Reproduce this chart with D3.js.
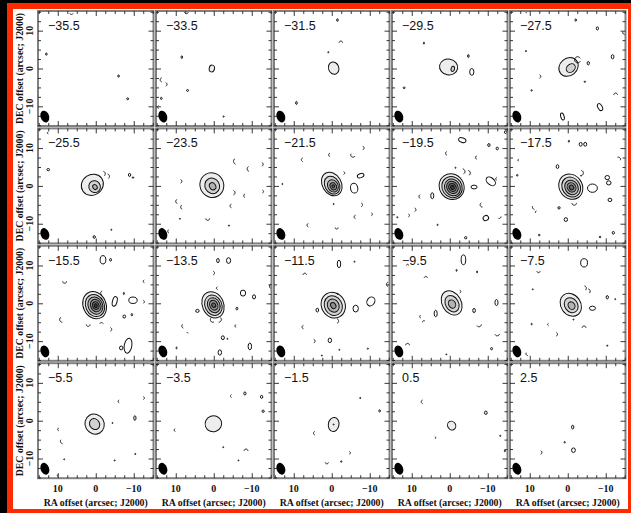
<!DOCTYPE html>
<html>
<head>
<meta charset="utf-8">
<script src="https://cdn.jsdelivr.net/npm/d3@7"></script>
<style>
  html, body { margin: 0; padding: 0; background: #000; }
  svg { display: block; }
</style>
</head>
<body>
<svg id="chart" width="631" height="513"></svg>
<script>
// Channel velocities (km/s), one panel each, read left-to-right, top-to-bottom
const velocities = [-35.5, -33.5, -31.5, -29.5, -27.5,
                    -25.5, -23.5, -21.5, -19.5, -17.5,
                    -15.5, -13.5, -11.5, -9.5, -7.5,
                    -5.5, -3.5, -1.5, 0.5, 2.5];

// Axis tick labels (arcsec)
const majorTicks = [10, 0, -10];
const minorTicks = [-15, -12.5, -7.5, -5, -2.5, 2.5, 5, 7.5, 12.5, 15];

// Main emission: per channel, position angle (deg) and nested contour rings
// each ring = [RA offset, DEC offset, semi-axis along RA, semi-axis along DEC] in arcsec
const srcPA = [0, 80, 20, -10, 40,
               35, 30, 30, 35, 35,
               25, 25, 30, 30, 35,
               30, 20, -10, 30, 0];
const srcRings = [
  [],
  [[0.5, 0.0, 0.9, 0.7]],
  [[-0.5, 0.1, 1.35, 1.65]],
  [[0.3, 0.4, 2.4, 2.1], [-0.8, -0.1, 0.45, 0.7]],
  [[-0.2, 0.4, 2.7, 2.3], [-0.8, 0.1, 1.3, 1.0]],
  [[0.9, 0.3, 3.0, 2.7], [0.3, -0.2, 1.5, 1.6], [0.2, -0.3, 0.55, 0.7]],
  [[0.5, 0.2, 3.1, 3.3], [0.4, 0.0, 1.9, 2.1], [0.3, -0.1, 0.8, 1.0]],
  [[0.0, 0.5, 2.5, 3.3], [-0.1, 0.2, 1.9, 2.5], [-0.3, 0.0, 1.35, 1.7], [-0.4, -0.1, 0.8, 1.0], [-0.4, -0.1, 0.35, 0.4]],
  [[-0.5, -0.2, 3.2, 3.5], [-0.6, -0.3, 2.6, 2.9], [-0.7, -0.4, 2.0, 2.3], [-0.7, -0.4, 1.45, 1.7], [-0.7, -0.4, 0.95, 1.1], [-0.7, -0.4, 0.45, 0.55]],
  [[-0.8, -0.2, 3.0, 3.5], [-0.9, -0.3, 2.35, 2.75], [-1.0, -0.4, 1.7, 2.0], [-1.0, -0.4, 1.1, 1.3], [-1.0, -0.4, 0.55, 0.65]],
  [[0.3, -0.5, 3.0, 3.7], [0.2, -0.6, 2.45, 3.0], [0.1, -0.6, 1.9, 2.35], [0.0, -0.6, 1.35, 1.7], [0.0, -0.6, 0.85, 1.05], [0.0, -0.6, 0.4, 0.5]],
  [[0.2, -0.4, 2.8, 3.6], [0.1, -0.5, 2.2, 2.8], [0.0, -0.5, 1.6, 2.05], [0.0, -0.5, 1.05, 1.35], [0.0, -0.5, 0.5, 0.6]],
  [[-0.4, -0.5, 3.1, 3.5], [-0.4, -0.6, 2.3, 2.7], [-0.4, -0.6, 1.5, 1.8], [-0.4, -0.6, 0.65, 0.85]],
  [[-0.5, 0.1, 2.5, 3.4], [-0.6, -0.1, 1.7, 2.3], [-0.6, -0.2, 0.9, 1.15]],
  [[-0.8, -0.4, 2.6, 3.2], [-0.9, -0.5, 1.7, 2.1], [-1.0, -0.6, 0.85, 1.05]],
  [[0.3, -0.9, 2.5, 2.7], [0.3, -0.9, 1.3, 1.5]],
  [[0.1, -0.8, 2.2, 2.1]],
  [[-0.5, -1.0, 1.4, 1.85]],
  [[-0.5, -1.3, 1.05, 1.2]],
  []
];

// Small positive contours: [RA, DEC, semi-axis RA, semi-axis DEC, PA]
const blobs = [
  [[13, 3.8, .2, .3, 0], [-6, -2, .2, .3, 0], [-8.4, -8, .25, .25, 0]],
  [[8.4, 3, .2, .35, 0], [6.9, -5.8, .25, .25, 0], [13.8, -7.9, .2, .3, 0], [-2.6, -12.7, .15, .15, 0]],
  [[-1.5, 12.8, .2, .35, 0], [0.9, 4.3, .15, .15, 0], [9.3, -9.1, .2, .4, 0]],
  [[-5.8, -0.9, .55, .9, 0], [-4.9, 3.3, .2, .4, 0], [6.8, 6.7, .15, .25, 0], [12, -5.1, .25, .2, 0]],
  [[-5.4, 1.4, .3, .45, 0], [-2.1, 12.8, .2, .3, 0], [-7.8, 10.6, .3, .4, 0], [-11.8, 3.1, .35, .55, 0],
   [-8.5, -10.2, .55, 1.0, 30], [1.4, -12.7, .45, .95, 15], [11, 4.6, .15, .15, 0], [9.5, -5.8, .15, .2, 0], [-4.5, -3.5, .2, .15, 0]],
  [[12.5, 4.3, .35, .3, 0], [-8.9, 2.9, .3, .4, 0], [-9.8, 2.2, .25, .1, 0], [0.4, -13.5, .3, .35, 0], [-4.1, -11.6, .1, .15, 0]],
  [[8.9, -8.7, .12, .12, 0], [-4, -10.5, .15, .15, 0]],
  [[-7.6, 2.7, .9, .55, 20], [-5.9, -0.6, .95, 1.3, 10], [-0.5, -4.8, .12, .15, 0], [13, 0.5, .12, .15, 0]],
  [[-3.3, 12.1, 1.0, .6, -20], [-10.3, 10.8, .3, .4, 0], [-12.5, 9.9, .3, .35, 0], [-14.7, 14.2, .3, .35, 0],
   [-10.8, 1.2, 1.4, .9, -40], [-6.4, -0.3, .8, .5, 0], [4.6, -2.6, .4, .8, 0], [-9.5, -8.5, .75, .65, 30],
   [-4.2, -13.7, .3, .3, 0], [-1.5, 4.8, .12, .15, 0], [13.8, -8.3, .15, .15, 0], [3.2, -10.3, .15, .15, 0]],
  [[-3.4, 11, .4, .5, 0], [-4.6, 11, .4, .5, 0], [2.7, 5.1, .35, .5, 0], [-6.5, -0.6, 1.3, 1.1, 0],
   [-10.4, 2.2, .6, .55, 0], [-10.8, 0.8, .6, .55, 0], [-11.1, -3.7, .5, .45, 0], [2.3, -5.8, .3, .3, 0],
   [0.5, -8.9, .45, .5, 0], [-12, -12.4, .3, .35, 0], [-0.3, 11.8, .15, .25, 0], [-3.5, 2.7, .1, .1, 0],
   [13.3, 2.8, .2, .2, 0], [7.5, -13, .2, .2, 0], [-8.5, -13.5, .2, .2, 0]],
  [[-1.9, 11.5, .75, 1.1, 0], [-3.9, 11.5, .25, .35, 0], [-5, 0.5, .6, 1.3, -15], [-9.8, 0.8, 1.1, .85, 0],
   [-8.5, -11.2, 1.0, 2.0, -10], [-6.7, -11.8, .45, .5, 0], [-7.5, -3.5, .35, .4, 0], [-9.5, -3.0, .2, .3, 0], [-7.4, 2.6, .1, .3, 0]],
  [[-1.1, 11.3, .35, .55, 0], [-3.9, 11.3, .55, .75, 0], [-7.7, 2.7, .7, .8, 0], [-10.6, 1.7, .4, .55, 0],
   [4.3, -2, .45, .4, 0], [-6.1, -1.4, .25, .35, 0], [-2.4, -9.1, .4, .5, 0], [-3.6, -9.4, .1, .1, 0],
   [-9.5, -11.4, .45, .9, 0], [-1.6, -13, .45, .7, 0], [9.8, -11.8, .1, .25, 0], [-15, 4.5, .3, .5, 0]],
  [[-1.9, 10.4, .45, 1.0, 0], [-10.3, 0.5, 1.0, 1.25, -30], [-6.3, -1.4, .7, .9, 0], [3.8, -1.8, .35, .5, 0],
   [0.5, -9.8, .45, .6, 0], [-6, 11, .1, .15, 0], [-2, -12.3, .1, .1, 0], [-9.5, -12, .15, .15, 0], [2.6, -13.8, .1, .1, 0], [-1.5, 2.5, .1, .1, 0]],
  [[-3.6, 11.5, .6, 1.3, 0], [-12.3, 0.2, .4, .8, 0], [-6.4, -1.9, .35, .55, 0], [3.7, -2.7, .4, .85, 0],
   [-11, -12, .25, .3, 0], [-1.8, 8.7, .1, .25, 0], [-7.2, 8.3, .1, .25, 0], [0.9, -13.5, .1, .1, 0]],
  [[-4.3, 10.7, .9, 1.1, 0], [-6.5, -1.3, .8, .55, 0], [-10.4, 1.6, .3, .45, 0], [-12.5, 1.1, .1, .1, 0],
   [9.2, 3.7, .1, .1, 0], [-1.5, -4.3, .1, .1, 0], [-10.4, -11.2, .15, .15, 0], [9.5, -5.5, .1, .2, 0]],
  [[-10.3, 0.7, .3, .6, 0], [-4.4, -0.6, .12, .12, 0], [-5, -10.5, .1, .15, 0], [-10.4, -8.8, .15, .15, 0], [8.3, -10.2, .1, .1, 0]],
  [[-8.2, 7.2, .3, .4, 0], [-12.6, 6.3, .3, .4, 0], [-13, 2.5, .3, .3, 0], [-6.5, -10.5, .1, .1, 0], [-2.5, -7, .1, .1, 0]],
  [[-0.5, -1.0, .1, .1, 0], [-7.5, 6, .15, .15, 0], [-12.6, 2.6, .2, .3, 0], [-2.5, -10.8, .15, .2, 0]],
  [[-9.5, 2.1, .35, .45, 0], [-13.3, -4, .15, .15, 0], [-14.5, -8, .15, .2, 0]],
  [[-1.5, -7.8, .5, .6, 0], [-1.3, -1.7, .3, .5, 0], [0.8, -5.7, .15, .2, 0]]
];

// Negative contour fragments: [RA, DEC, radius, start angle, end angle] (deg, clockwise from north on screen)
const negArcs = [
  [[6.4, 14.8, .5, 120, 240]],
  [[7.2, 15, .5, 100, 260], [13.5, -3, .6, 200, 340], [12.8, -4.2, .5, 20, 160], [14.4, -10.2, .4, 200, 340]],
  [[-2.4, 6.8, .45, 270, 450]],
  [],
  [[-2.6, 2.3, .8, 120, 420], [7.6, -2.1, .5, 20, 160], [-12.6, -7, .5, 270, 450], [10.6, 15, .4, 200, 340], [-15, 9.5, .5, 120, 300]],
  [[-1.8, 3.2, .7, 20, 140], [-2.9, 2.5, .7, 20, 140], [12.4, 14, .3, 200, 340]],
  [[-6, 6.5, .8, 200, 330], [-9.5, 4.5, .7, 200, 330], [-5, -1.8, .6, 20, 160], [-8.4, -2.6, .5, 200, 340],
   [-12.5, 5.7, .5, 20, 160], [-4.8, -5.3, .5, 200, 340], [1.6, -8.6, .5, 90, 270], [-12.7, -1.5, .4, 20, 160],
   [8.9, 1.2, .5, 20, 160], [9.4, -4.1, .6, 200, 330], [8.1, -5.6, .6, 200, 330], [11.6, -12, .5, 200, 330]],
  [[7.5, 6.9, .5, 200, 340], [0.3, 8.2, .5, 200, 340], [-5.6, 8.2, .6, 120, 300], [-3, 3.4, .4, 20, 160],
   [-7.6, -5, .5, 20, 160], [6, -10.4, .5, 200, 340], [-1.3, -11, .4, 90, 270], [-6.4, -8.2, .5, 200, 340],
   [-10.3, -7.5, .4, 20, 160], [-8, 10, .5, 20, 160]],
  [[0.6, 8.6, .5, 200, 340], [-3.3, 3.8, .7, 10, 150], [-4.7, 3.4, .7, 10, 150], [-7.3, 7.5, .5, 200, 340],
   [7.6, -2.8, .5, 200, 340], [-8.6, -5, .6, 180, 330], [9.4, -6.3, .5, 20, 160], [11, -7.8, .4, 20, 160],
   [-13, -8.1, .5, 90, 200], [-12.5, 1.9, .4, 200, 340]],
  [[-3.4, 3.4, .7, 10, 150], [-1.7, -4.5, .6, 90, 270], [8.5, -5.5, .8, 200, 280], [8, -7, .5, 250, 330],
   [12.8, 6.8, .3, 200, 340], [-13.3, 7, .6, 340, 470]],
  [[8.2, 5.8, .5, 90, 270], [-12.9, 5.8, .4, 200, 340], [-1.9, 2.7, .6, 200, 340], [-12.4, 0.4, .4, 20, 160],
   [8.8, -4.3, .7, 180, 330], [2, -5.6, .5, 90, 270], [-1.5, -5.6, .5, 300, 420], [-3.7, -6.9, .5, 20, 160]],
  [[0.3, 8, .5, 20, 160], [-1.1, 4, .4, 200, 340], [0.2, -4.3, .7, 160, 300], [-1.3, -4.3, .7, 40, 180],
   [7.8, -6, .6, 200, 320], [6.7, -7.6, .3, 180, 270], [-6, -6, .4, 200, 340]],
  [[7.1, 7.5, .45, 270, 450], [-15, 5, .6, 200, 340], [-1.2, -4.7, .6, 20, 160], [7.3, -6.3, .5, 200, 340],
   [4.9, -10, .5, 20, 160]],
  [[6.3, 6.7, .4, 270, 450], [11.1, 10, .3, 270, 450], [-2.5, 3.1, .4, 20, 160], [7.5, -3.5, .4, 200, 330],
   [6.8, -5, .4, 270, 400], [-7.7, -5.6, .6, 90, 240], [-12.5, -8, .6, 100, 250], [11.1, -11.1, .5, 270, 450]],
  [[-4.3, 4, .6, 10, 150], [-5.3, 3.2, .6, 10, 150], [7.7, 8.5, .4, 90, 270], [-4.3, -6.5, .5, 270, 450],
   [5, -5.6, .3, 200, 340], [3.2, -8.2, .5, 20, 160], [10.5, -13.3, .5, 180, 300]],
  [[9.6, -2.3, .4, 200, 340], [8.6, -5.4, .7, 190, 300], [-6.3, 5.1, .4, 200, 340], [-12.4, 6, .4, 20, 160], [9.8, -14.5, .3, 200, 340]],
  [[-8.5, -8, .5, 270, 450], [10, -2.5, .4, 200, 340], [-4.8, 6.5, .4, 200, 340]],
  [[4.3, -3.3, .5, 200, 340], [-4.5, -8.5, .4, 20, 160], [1.3, -11, .4, 90, 270]],
  [[7, 5, .5, 200, 340], [4, -4.5, .3, 20, 160]],
  [[7.3, -8.4, .5, 20, 160]]
];

// Synthesised beam (arcsec, deg)
const beamPos = [13.4, -12.7];
const beamAxes = [1.12, 1.6];
const beamPA = 20;

// Grey shading of the image between successive contour levels
const levelFills = ["#ededed", "#d2d2d2", "#b3b3b3", "#8f8f8f", "#676767", "#3c3c3c"];

const svg = d3.select("#chart");
const W = 631, H = 513;

// Frame: black surround with red border and white plotting sheet
svg.append("rect").attr("width", W).attr("height", H).attr("fill", "#000");
svg.append("rect").attr("x", 7).attr("y", 3).attr("width", W - 7).attr("height", H - 3).attr("fill", "#ff2a00");
svg.append("rect").attr("x", 13).attr("y", 9).attr("width", 615).attr("height", 500).attr("fill", "#fff");

const nCols = 5;
const panelW = 115.5, panelH = 115;
const colX = d3.range(nCols).map(c => 38 + c * 118);
const rowY = d3.range(4).map(r => 11 + r * 117.4);
const extent = 15.2;

const fmtVel = d3.format(".1f");
const fmtTick = d3.format("d");
const serif = "'Liberation Serif', 'DejaVu Serif', serif";
const sans = "'Liberation Sans', Arial, sans-serif";
const ink = "#111";
const lw = 1.0;

const defs = svg.append("defs");

velocities.forEach((v, i) => {
  const c = i % nCols, r = Math.floor(i / nCols);
  const px = colX[c], py = rowY[r];
  const x = d3.scaleLinear().domain([extent, -extent]).range([px, px + panelW]);
  const y = d3.scaleLinear().domain([-extent, extent]).range([py + panelH, py]);
  const kx = Math.abs(x(1) - x(0)), ky = Math.abs(y(1) - y(0));

  defs.append("clipPath").attr("id", "clip" + i)
    .append("rect").attr("x", px).attr("y", py).attr("width", panelW).attr("height", panelH);

  const g = svg.append("g");
  const inner = g.append("g").attr("clip-path", `url(#clip${i})`);

  // main emission contours, outermost first
  srcRings[i].forEach((ring, li) => {
    const cx = x(ring[0]), cy = y(ring[1]);
    inner.append("ellipse")
      .attr("cx", cx).attr("cy", cy)
      .attr("rx", ring[2] * kx).attr("ry", ring[3] * ky)
      .attr("transform", `rotate(${-srcPA[i]},${cx},${cy})`)
      .attr("fill", levelFills[li])
      .attr("stroke", ink).attr("stroke-width", lw);
  });

  // small positive contours
  blobs[i].forEach(b => {
    const cx = x(b[0]), cy = y(b[1]);
    inner.append("ellipse")
      .attr("cx", cx).attr("cy", cy)
      .attr("rx", Math.max(b[2] * kx, 0.5)).attr("ry", Math.max(b[3] * ky, 0.5))
      .attr("transform", `rotate(${-b[4]},${cx},${cy})`)
      .attr("fill", "none").attr("stroke", ink).attr("stroke-width", lw);
  });

  // negative contour fragments
  negArcs[i].forEach(a => {
    const cx = x(a[0]), cy = y(a[1]), rr = a[2] * kx;
    const pts = d3.range(a[3], a[4] + 0.1, 10).map(t => {
      const rad = t * Math.PI / 180;
      return [cx + rr * Math.sin(rad), cy - rr * Math.cos(rad)];
    });
    inner.append("path").attr("d", d3.line()(pts))
      .attr("fill", "none").attr("stroke", ink).attr("stroke-width", lw);
  });

  // beam
  const bx = x(beamPos[0]), by = y(beamPos[1]);
  inner.append("ellipse")
    .attr("cx", bx).attr("cy", by)
    .attr("rx", beamAxes[0] * kx).attr("ry", beamAxes[1] * ky)
    .attr("transform", `rotate(${-beamPA},${bx},${by})`)
    .attr("fill", "#000");

  // panel frame
  g.append("rect").attr("x", px).attr("y", py).attr("width", panelW).attr("height", panelH)
    .attr("fill", "none").attr("stroke", "#808080").attr("stroke-width", 2);

  // inward ticks on all four edges
  const tickSets = [[minorTicks, 3], [majorTicks, 5]];
  tickSets.forEach(([vals, len]) => {
    const axB = d3.axisBottom(x).tickValues(vals).tickSize(-len).tickFormat("");
    const axT = d3.axisTop(x).tickValues(vals).tickSize(-len).tickFormat("");
    const axL = d3.axisLeft(y).tickValues(vals).tickSize(-len).tickFormat("");
    const axR = d3.axisRight(y).tickValues(vals).tickSize(-len).tickFormat("");
    [[axB, `translate(0,${py + panelH})`], [axT, `translate(0,${py})`],
     [axL, `translate(${px},0)`], [axR, `translate(${px + panelW},0)`]].forEach(([ax, tr]) => {
      const a = g.append("g").attr("transform", tr).call(ax);
      a.select(".domain").remove();
      a.selectAll("line").attr("stroke", "#222").attr("stroke-width", 0.9);
    });
  });

  // velocity label
  g.append("text").attr("x", px + 10).attr("y", py + 19)
    .attr("font-family", sans).attr("font-size", 12.5).attr("fill", ink)
    .text(fmtVel(v));

  // DEC tick labels and title on the first column
  if (c === 0) {
    majorTicks.forEach(t => {
      g.append("text")
        .attr("transform", `translate(${px - 5},${y(t)}) rotate(-90)`)
        .attr("text-anchor", "middle")
        .attr("font-family", serif).attr("font-weight", "bold").attr("font-size", 10).attr("fill", ink)
        .text(fmtTick(t));
    });
    g.append("text")
      .attr("transform", `translate(${px - 15},${py + panelH / 2}) rotate(-90)`)
      .attr("text-anchor", "middle")
      .attr("font-family", serif).attr("font-weight", "bold").attr("font-size", 9.8).attr("fill", ink)
      .text("DEC offset (arcsec; J2000)");
  }

  // RA tick labels and title on the bottom row
  if (r === 3) {
    majorTicks.forEach(t => {
      g.append("text")
        .attr("x", x(t)).attr("y", py + panelH + 14)
        .attr("text-anchor", "middle")
        .attr("font-family", serif).attr("font-weight", "bold").attr("font-size", 10).attr("fill", ink)
        .text(fmtTick(t));
    });
    g.append("text")
      .attr("x", px + panelW / 2).attr("y", py + panelH + 28)
      .attr("text-anchor", "middle")
      .attr("font-family", serif).attr("font-weight", "bold").attr("font-size", 9.8).attr("fill", ink)
      .text("RA offset (arcsec; J2000)");
  }
});
</script>
</body>
</html>
